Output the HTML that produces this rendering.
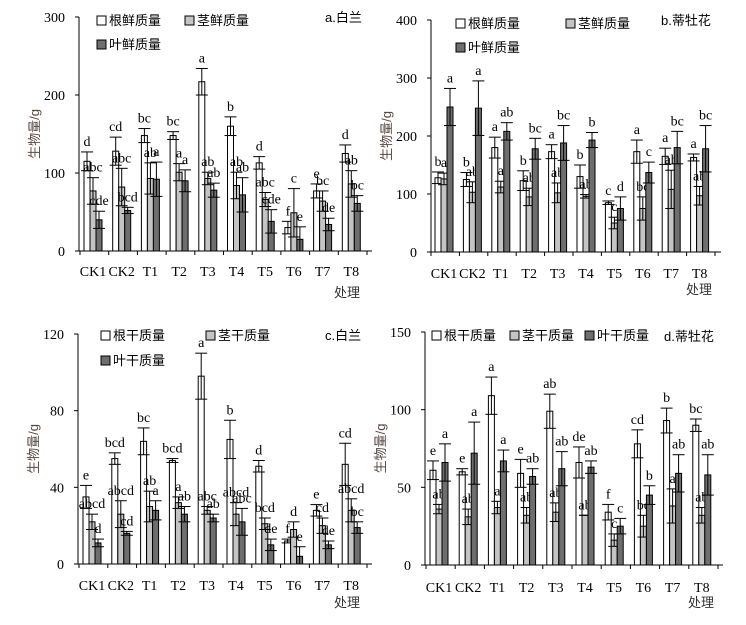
<!DOCTYPE html>
<html><head><meta charset="utf-8"><style>
body{margin:0;background:#fff;width:746px;height:620px;overflow:hidden}
svg text{font-family:"Liberation Serif","Noto Serif CJK SC",serif}
.cj{font-family:"Liberation Sans","Noto Sans CJK SC",sans-serif}
</style></head><body>
<svg id="s" width="746" height="620" xmlns="http://www.w3.org/2000/svg"></svg>
<script>
const S=document.getElementById('s');let h='';
const cats=['CK1','CK2','T1','T2','T3','T4','T5','T6','T7','T8'];
const fills=['#fff','#c4c4c4','#6e6e6e'];
function panel(p){
 const {ax,y0,ytop,ymax,step,fx,sp,d,e,l,xl,xly,cly,title,tx,ty,leg}=p;
 const sc=(y0-ytop)/ymax, Y=v=>y0-v*sc;
 const xr=ax+sp*10+6;
 h+=`<line x1="${ax}" y1="${ytop}" x2="${ax}" y2="${y0}" stroke="#000"/>`;
 h+=`<line x1="${ax}" y1="${y0}" x2="${xr}" y2="${y0}" stroke="#000"/>`;
 for(let v=0;v<=ymax;v+=step){const y=Y(v);h+=`<line x1="${ax-4}" y1="${y}" x2="${ax}" y2="${y}" stroke="#000"/><text x="${ax-14}" y="${y+5}" font-size="14" text-anchor="end">${v}</text>`;}
 for(let i=0;i<=10;i++){const x=fx-4+sp*i;h+=`<line x1="${x}" y1="${y0}" x2="${x}" y2="${y0+4}" stroke="#000"/>`;}
 for(let i=0;i<10;i++){
  for(let k=0;k<3;k++){
   const x=fx+sp*i+6*k,v=d[k][i],er=e[k][i],yt=Y(v);
   h+=`<rect x="${x}" y="${yt}" width="6" height="${y0-yt}" fill="${fills[k]}" stroke="#000" stroke-width="1"/>`;
   const cx=x+3,a=Y(v+er),b=Y(Math.max(0,v-er));
   h+=`<line x1="${cx}" y1="${a}" x2="${cx}" y2="${b}" stroke="#000"/><line x1="${cx-6}" y1="${a}" x2="${cx+6}" y2="${a}" stroke="#000"/><line x1="${cx-6}" y1="${b}" x2="${cx+6}" y2="${b}" stroke="#000"/>`;
   h+=`<text x="${cx}" y="${a-6}" font-size="14" text-anchor="middle">${l[k][i]}</text>`;
  }
  h+=`<text x="${fx+sp*i+9}" y="${xly}" font-size="14" text-anchor="middle">${cats[i]}</text>`;
 }
 h+=`<text x="${xl}" y="${cly}" font-size="13" class="cj" fill="#333">处理</text>`;
 h+=`<text x="${tx}" y="${ty}" font-size="13" class="cj">${title}</text>`;
 const yc=(ytop+y0)/2;
 h+=`<text transform="translate(${ax-40},${yc}) rotate(-90)" font-size="13" text-anchor="middle" class="cj" fill="#5a4a42">生物量/g</text>`;
 leg.forEach((g,k)=>{h+=`<rect x="${g[0]}" y="${g[1]}" width="9" height="9" fill="${fills[k]}" stroke="#000"/><text x="${g[0]+12}" y="${g[1]+9}" font-size="13" class="cj">${g[2]}</text>`;});
}
panel({ax:79,y0:251,ytop:17,ymax:300,step:100,fx:84,sp:28.7,
 d:[[115,128,148,148,217,160,113,30,77,125],[77,82,93,101,93,84,66,49,64,86],[40,52,92,90,78,72,38,15,34,61]],
 e:[[12,18,9,5,17,12,8,8,9,11],[17,24,20,11,8,17,9,31,13,17],[11,4,22,14,9,22,15,16,8,10]],
 l:[['d','cd','bc','bc','a','b','d','f','e','d'],['abc','abc','ab','a','ab','ab','abc','c','bc','ab'],['cde','bcd','a','a','ab','ab','cde','e','de','bc']],
 xl:334,xly:276,cly:297,title:'a.白兰',tx:325,ty:22,
 leg:[[97,16,'根鲜质量'],[185,16,'茎鲜质量'],[97,40,'叶鲜质量']]});
panel({ax:431,y0:252,ytop:20,ymax:400,step:100,fx:435,sp:28.4,
 d:[[128,125,180,123,173,130,85,173,165,163],[126,103,112,95,102,96,50,75,108,97],[250,248,208,178,188,193,75,137,180,178]],
 e:[[10,12,18,17,12,20,3,20,14,6],[10,18,10,15,17,3,10,20,33,16],[32,47,15,18,30,13,20,18,28,40]],
 l:[['b','b','a','b','a','b','c','a','a','a'],['a','ab','a','ab','ab','ab','c','bc','ab','ab'],['a','a','ab','bc','bc','b','d','c','bc','bc']],
 xl:686,xly:278,cly:294,title:'b.蒂牡花',tx:661,ty:25,
 leg:[[456,19,'根鲜质量'],[566,19,'茎鲜质量'],[456,43,'叶鲜质量']]});
panel({ax:78,y0:564,ytop:334,ymax:120,step:40,fx:83,sp:28.8,
 d:[[35,55,64,54,98,65,51,12,28,52],[22,26,30,32,28,26,21,18,20,28],[11,16,28,26,24,22,10,4,10,19]],
 e:[[6,3,7,1,12,10,3,1,3,11],[4,7,8,3,2,6,3,4,4,6],[2,1,5,4,2,7,3,5,2,3]],
 l:[['e','bcd','bc','bcd','a','b','d','f','e','cd'],['abcd','abcd','ab','a','abc','abcd','bcd','d','cd','abcd'],['d','cd','a','ab','ab','abc','de','e','de','bc']],
 xl:334,xly:590,cly:607,title:'c.白兰',tx:325,ty:340,
 leg:[[101,331,'根干质量'],[206,331,'茎干质量'],[101,356,'叶干质量']]});
panel({ax:425,y0:565,ytop:332,ymax:150,step:50,fx:430,sp:29.2,
 d:[[61,60,109,59,99,66,34,78,93,90],[36,31,37,32,34,32,16,25,38,32],[66,72,67,57,62,63,25,45,59,58]],
 e:[[6,2,12,9,11,10,5,9,8,4],[3,5,4,5,6,0,4,7,11,5],[12,20,7,5,11,4,5,6,12,13]],
 l:[['e','e','a','e','ab','de','f','cd','b','bc'],['ab','ab','a','ab','ab','ab','c','bc','a','ab'],['a','a','a','ab','ab','ab','c','b','ab','ab']],
 xl:688,xly:592,cly:607,title:'d.蒂牡花',tx:664,ty:341,
 leg:[[432,331,'根干质量'],[510,331,'茎干质量'],[585,331,'叶干质量']]});
S.innerHTML=h;
</script>
</body></html>
